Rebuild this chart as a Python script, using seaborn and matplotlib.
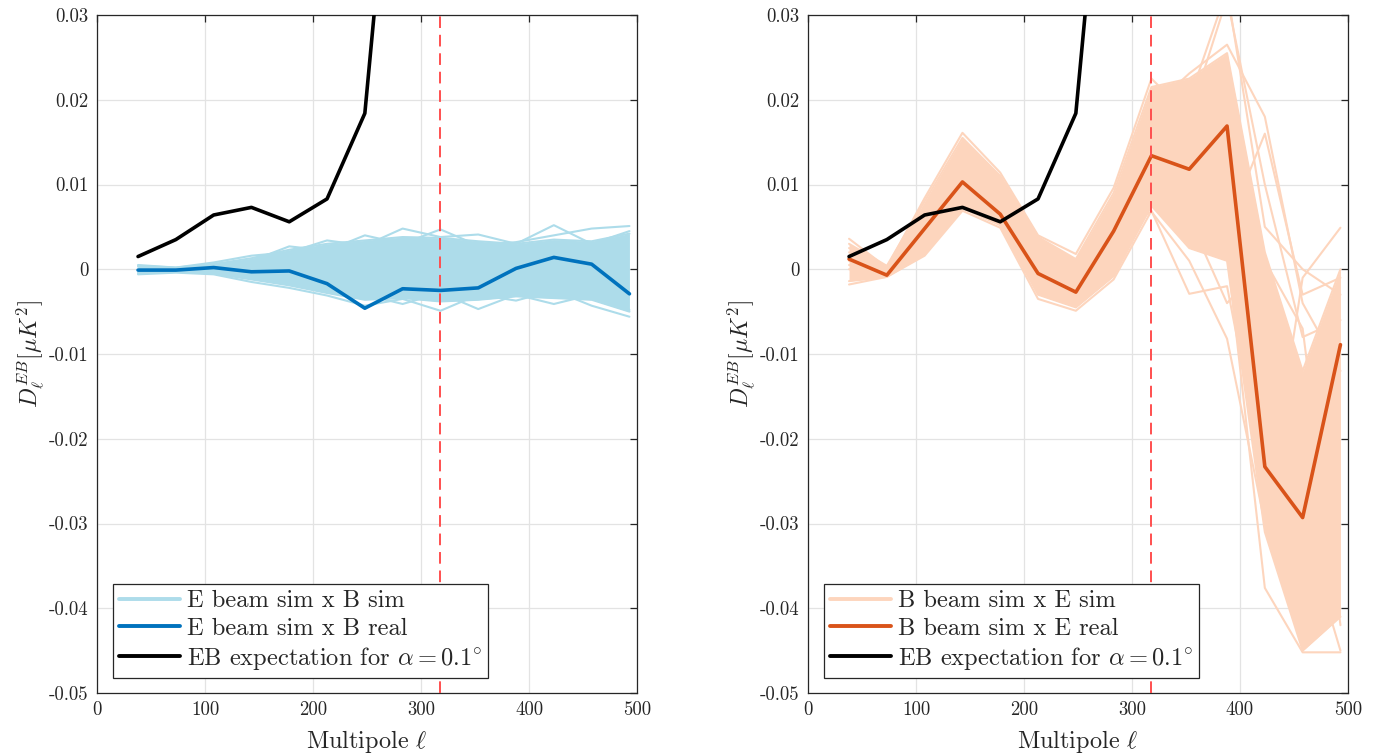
import matplotlib
matplotlib.use('Agg')
import matplotlib.pyplot as plt
from matplotlib.lines import Line2D
import seaborn as sns
import numpy as np
import pandas as pd

# Multipole bin centres
ell = [38, 73, 108, 143, 178, 213, 248, 283, 318, 353, 388, 423, 458, 493]
ell_cut = 318

# EB expectation for alpha = 0.1 deg (shoots off the top after ell ~ 250)
eb_expect = [0.0015, 0.0035, 0.0064, 0.0073, 0.0056, 0.0083, 0.0184, 0.066]

# Left panel: E beam sim x B real
eb_real_left = [-0.0001, -0.0001, 0.0002, -0.0003, -0.0002, -0.0017, -0.0046,
                -0.0023, -0.0025, -0.0022, 0.0001, 0.0014, 0.0006, -0.0029]
# bulk of E beam sim x B sim
sim_left_hi = [0.0004, 0.0002, 0.0006, 0.0013, 0.0023, 0.0030, 0.0034,
               0.0038, 0.0037, 0.0033, 0.0030, 0.0035, 0.0033, 0.0042]
sim_left_lo = [-0.0005, -0.0003, -0.0005, -0.0012, -0.0019, -0.0028, -0.0036,
               -0.0034, -0.0038, -0.0036, -0.0032, -0.0034, -0.0036, -0.0050]
# a few individual sims on the edges of the bundle
sim_left_a = [0.0005, 0.0002, 0.0008, 0.0016, 0.0020, 0.0034, 0.0028,
              0.0048, 0.0038, 0.0041, 0.0030, 0.0052, 0.0030, 0.0045]
sim_left_b = [0.0003, 0.0001, 0.0006, 0.0010, 0.0027, 0.0022, 0.0040,
              0.0030, 0.0047, 0.0028, 0.0032, 0.0040, 0.0048, 0.0051]
sim_left_c = [-0.0006, -0.0004, -0.0006, -0.0015, -0.0022, -0.0031, -0.0043,
              -0.0035, -0.0049, -0.0030, -0.0037, -0.0025, -0.0043, -0.0056]
sim_left_d = [-0.0004, -0.0002, -0.0004, -0.0010, -0.0018, -0.0026, -0.0030,
              -0.0041, -0.0028, -0.0047, -0.0030, -0.0041, -0.0030, -0.0048]

# Right panel: B beam sim x E real
eb_real_right = [0.0012, -0.0007, 0.0048, 0.0103, 0.0065, -0.0005, -0.0027,
                 0.0045, 0.0134, 0.0118, 0.0169, -0.0233, -0.0293, -0.0089]
# bulk of B beam sim x E sim
sim_right_hi = [0.0030, 0.0004, 0.0080, 0.0155, 0.0110, 0.0038, 0.0012,
                0.0090, 0.0215, 0.0225, 0.0255, 0.0020, -0.0120, 0.0000]
sim_right_lo = [-0.0014, -0.0009, 0.0018, 0.0072, 0.0052, -0.0030, -0.0045,
                -0.0008, 0.0075, 0.0025, 0.0010, -0.0310, -0.0450, -0.0410]
sim_right_a = [0.0036, 0.0002, 0.0084, 0.0161, 0.0114, 0.0040, 0.0018,
               0.0096, 0.0225, 0.0180, 0.0320, 0.0100, -0.0080, -0.0060]
sim_right_b = [-0.0018, -0.0009, 0.0016, 0.0069, 0.0049, -0.0035, -0.0049,
               -0.0012, 0.0069, -0.0029, -0.0020, -0.0250, -0.0300, -0.0450]
sim_right_c = [0.0020, 0.0000, 0.0060, 0.0120, 0.0090, 0.0020, 0.0005,
               0.0060, 0.0190, 0.0231, 0.0265, 0.0180, -0.0040, -0.0120]
sim_right_d = [0.0010, -0.0005, 0.0040, 0.0100, 0.0070, 0.0000, -0.0020,
               0.0040, 0.0068, 0.0010, -0.0082, -0.0300, -0.0010, 0.0049]
sim_right_e = [0.0025, 0.0003, 0.0070, 0.0140, 0.0100, 0.0030, 0.0010,
               0.0080, 0.0170, 0.0200, 0.0330, 0.0050, 0.0000, -0.0030]
sim_right_f = [0.0000, -0.0006, 0.0030, 0.0085, 0.0060, -0.0020, -0.0040,
               0.0000, 0.0090, 0.0050, 0.0020, -0.0376, -0.0452, -0.0452]
sim_right_g = [0.0015, -0.0002, 0.0050, 0.0110, 0.0080, 0.0010, -0.0010,
               0.0050, 0.0150, 0.0120, 0.0050, 0.0160, -0.0030, -0.0010]
sim_right_h = [0.0005, -0.0004, 0.0035, 0.0090, 0.0065, -0.0010, -0.0030,
               0.0020, 0.0110, 0.0060, -0.0040, 0.0010, -0.0070, -0.0420]

x_ticks = [0, 100, 200, 300, 400, 500]
y_ticks = [-0.05, -0.04, -0.03, -0.02, -0.01, 0, 0.01, 0.02, 0.03]
y_ticklabels = ['-0.05', '-0.04', '-0.03', '-0.02', '-0.01', '0', '0.01', '0.02', '0.03']

# Colours (MATLAB-ish)
light_blue = '#ADDCEA'
dark_blue = '#0072BD'
light_orange = '#FDD5BD'
dark_orange = '#D95319'
cut_red = '#FF4F4F'

sns.set_style('whitegrid')
plt.rcParams['font.family'] = ['cmr10', 'DejaVu Serif']
plt.rcParams['mathtext.fontset'] = 'cm'
plt.rcParams['axes.unicode_minus'] = False
plt.rcParams['axes.formatter.use_mathtext'] = True

fig = plt.figure(figsize=(13.78, 7.55), dpi=100)
ax1 = fig.add_axes([97 / 1378, 1 - 693 / 755, 540 / 1378, 678 / 755])
ax2 = fig.add_axes([808 / 1378, 1 - 693 / 755, 540 / 1378, 678 / 755])


def draw_panel(ax, hi, lo, traces, real, sim_col, real_col, labels):
    ax.fill_between(ell, lo, hi, color=sim_col, lw=0, zorder=2)
    for tr in traces:
        sns.lineplot(x=ell, y=tr, ax=ax, color=sim_col, lw=1.5, zorder=2, legend=False)
    sns.lineplot(x=ell, y=hi, ax=ax, color=sim_col, lw=1.5, zorder=2, legend=False)
    sns.lineplot(x=ell, y=lo, ax=ax, color=sim_col, lw=1.5, zorder=2, legend=False)
    sns.lineplot(x=ell[:len(eb_expect)], y=eb_expect, ax=ax, color='black', lw=2.6,
                 zorder=4, legend=False)
    sns.lineplot(x=ell, y=real, ax=ax, color=real_col, lw=2.6, zorder=3, legend=False)
    ax.axvline(ell_cut, color=cut_red, lw=1.4, ls=(0, (6, 3.5)), zorder=5)

    ax.set_xlim(0, 500)
    ax.set_ylim(-0.05, 0.03)
    ax.set_xticks(x_ticks)
    ax.set_xticklabels([str(t) for t in x_ticks])
    ax.set_yticks(y_ticks)
    ax.set_yticklabels(y_ticklabels)
    ax.grid(True, color='#E3E3E3', lw=0.9)
    ax.set_axisbelow(True)
    for sp in ax.spines.values():
        sp.set_color('#262626')
        sp.set_linewidth(0.9)
    ax.tick_params(direction='in', top=True, right=True, length=5, width=0.9,
                   color='#262626', labelsize=13.5, labelcolor='#262626', pad=6)
    ax.set_xlabel(r'Multipole $\ell$', fontsize=17.5, color='#262626', labelpad=6)
    ax.set_ylabel(r'$D_\ell^{EB} [\mu K^2]$', fontsize=17, color='#262626', labelpad=2)

    handles = [Line2D([], [], color=sim_col, lw=2.8),
               Line2D([], [], color=real_col, lw=2.8),
               Line2D([], [], color='black', lw=2.8)]
    leg = ax.legend(handles, labels, loc='lower left',
                    bbox_to_anchor=(0.030, 0.022), borderaxespad=0,
                    fontsize=17.6, handlelength=2.5, handletextpad=0.25,
                    borderpad=0.25, labelspacing=0.22, fancybox=False,
                    framealpha=1, edgecolor='#262626')
    leg.get_frame().set_linewidth(0.9)
    leg.set_zorder(10)


draw_panel(ax1, sim_left_hi, sim_left_lo,
           [sim_left_a, sim_left_b, sim_left_c, sim_left_d],
           eb_real_left, light_blue, dark_blue,
           ['E beam sim x B sim', 'E beam sim x B real',
            r'EB expectation for $\alpha = 0.1^{\circ}$'])
draw_panel(ax2, sim_right_hi, sim_right_lo,
           [sim_right_a, sim_right_b, sim_right_c, sim_right_d, sim_right_e,
            sim_right_f, sim_right_g, sim_right_h],
           eb_real_right, light_orange, dark_orange,
           ['B beam sim x E sim', 'B beam sim x E real',
            r'EB expectation for $\alpha = 0.1^{\circ}$'])

fig.savefig('out.png', dpi=100)
